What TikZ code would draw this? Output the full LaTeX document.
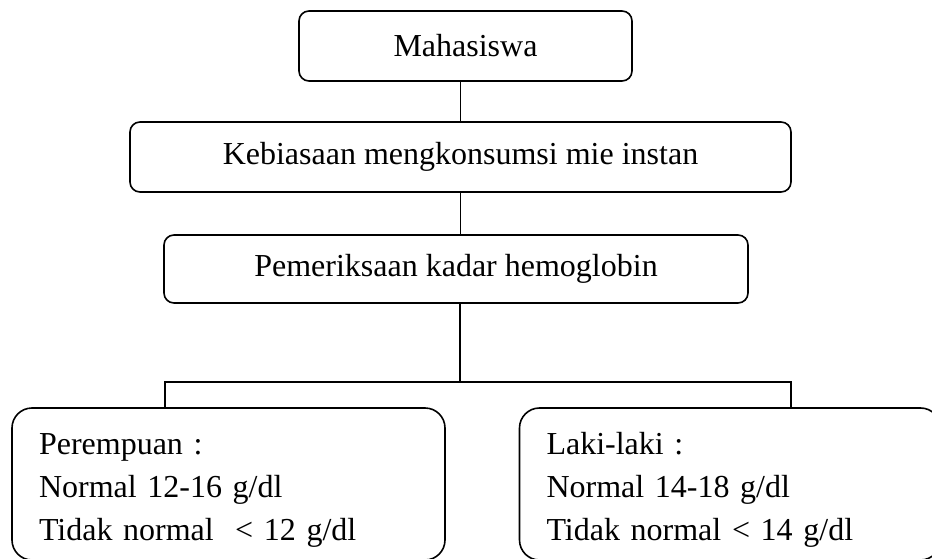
\documentclass[tikz,border=0pt]{standalone}
\usepackage{fontspec}
\setmainfont{Liberation Serif}
\begin{document}
\begin{tikzpicture}[x=1pt, y=-1pt, line width=1.6pt]
	\tikzstyle{box}=[rectangle, draw=black, rounded corners=10pt, minimum height=70pt, inner sep=0pt, font=\fontsize{32}{38}\selectfont]
	\tikzstyle{result}=[rectangle, draw=black, rounded corners=20pt, minimum height=152pt, inner xsep=27pt, inner ysep=0pt, align=left, font=\fontsize{32}{43}\selectfont]
	\useasboundingbox (0, 0) rectangle (932, 559);
	\clip (0, 0) rectangle (932, 559);
	\draw node[box, minimum width=333pt] at (465.5, 46) (mhs) {Mahasiswa};
	\draw node[box, minimum width=661pt] at (460.5, 157) (kbs) {Kebiasaan mengkonsumsi mie instan};
	\draw node[box, minimum width=584pt, minimum height=68pt] at (456, 269) (pmr) {Pemeriksaan kadar hemoglobin};
	\draw node[result, text width=379pt] at (228.5, 484) (pr) {\rule{0pt}{33pt}Perempuan :\\Normal 12-16 g/dl\\Tidak normal \ < 12 g/dl};
	\draw node[result, text width=367pt] at (730, 484) (lk) {\rule{0pt}{33pt}Laki-laki :\\Normal 14-18 g/dl\\Tidak normal < 14 g/dl};
	\coordinate (split) at (460, 382);
	\coordinate (hl) at (165, 382);
	\coordinate (hr) at (791, 382);

	\draw (kbs.north) -- (kbs.north |- mhs.south);
	\draw (kbs.south) -- (kbs.south |- pmr.north);
	\draw (split |- pmr.south) -- (split);
	\draw (hl |- pr.north) -- (hl) -- (hr) -- (hr |- lk.north);
\end{tikzpicture}
\end{document}
